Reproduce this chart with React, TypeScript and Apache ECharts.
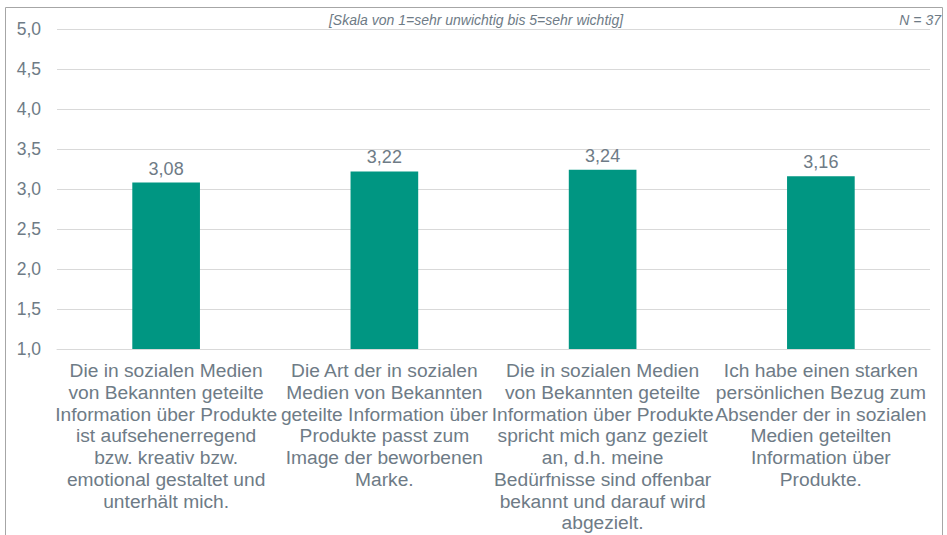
import React, { useEffect, useRef } from "react";
import * as echarts from "echarts";

const categories: string[] = [
  "Die in sozialen Medien\nvon Bekannten geteilte\nInformation über Produkte\nist aufsehenerregend\nbzw. kreativ bzw.\nemotional gestaltet und\nunterhält mich.",
  "Die Art der in sozialen\nMedien von Bekannten\ngeteilte Information über\nProdukte passt zum\nImage der beworbenen\nMarke.",
  "Die in sozialen Medien\nvon Bekannten geteilte\nInformation über Produkte\nspricht mich ganz gezielt\nan, d.h. meine\nBedürfnisse sind offenbar\nbekannt und darauf wird\nabgezielt.",
  "Ich habe einen starken\npersönlichen Bezug zum\nAbsender der in sozialen\nMedien geteilten\nInformation über\nProdukte.",
];
const values: number[] = [3.08, 3.22, 3.24, 3.16];
const subtitle = "[Skala von 1=sehr unwichtig bis 5=sehr wichtig]";
const nLabel = "N = 37";

const TEXT = "#6E7B86";
const FONT = "'Liberation Sans', Arial, sans-serif";

export default function App() {
  const ref = useRef<HTMLDivElement>(null);
  useEffect(() => {
    if (!ref.current) return;
    const chart = echarts.init(ref.current, undefined, { renderer: "svg" });
    chart.setOption({
      animation: false,
      textStyle: { fontFamily: FONT },
      grid: { left: 57, right: 17, top: 29, bottom: 186 },
      graphic: [
        {
          type: "rect",
          shape: { x: 5.5, y: 7.5, width: 937, height: 600 },
          style: { fill: "none", stroke: "#A6A6A6", lineWidth: 1 },
          silent: true,
        },
        {
          type: "text",
          x: 476,
          y: 20,
          style: {
            text: subtitle,
            fill: TEXT,
            font: `italic 14px ${FONT}`,
            textAlign: "center",
            textVerticalAlign: "middle",
          },
        },
        {
          type: "text",
          x: 941,
          y: 20,
          style: {
            text: nLabel,
            fill: TEXT,
            font: `italic 14px ${FONT}`,
            textAlign: "right",
            textVerticalAlign: "middle",
          },
        },
      ],
      xAxis: {
        type: "category",
        data: categories,
        axisLine: { show: true, lineStyle: { color: "#D9D9D9" } },
        axisTick: { show: false },
        axisLabel: {
          interval: 0,
          color: TEXT,
          fontSize: 19.2,
          lineHeight: 21.7,
          margin: 11,
          fontFamily: FONT,
        },
      },
      yAxis: {
        type: "value",
        min: 1,
        max: 5,
        interval: 0.5,
        axisLine: { show: false },
        axisTick: { show: false },
        splitLine: { lineStyle: { color: "#D9D9D9" } },
        axisLabel: {
          color: TEXT,
          fontSize: 17.5,
          margin: 16,
          fontFamily: FONT,
          formatter: (v: number) => v.toFixed(1).replace(".", ","),
        },
      },
      series: [
        {
          type: "bar",
          data: values,
          barWidth: "31%",
          itemStyle: { color: "#009682" },
          label: {
            show: true,
            position: "top",
            distance: 5,
            color: TEXT,
            fontSize: 18,
            fontFamily: FONT,
            formatter: (p: any) => p.value.toFixed(2).replace(".", ","),
          },
        },
      ],
    });
    return () => chart.dispose();
  }, []);
  return (
    <div
      ref={ref}
      style={{ position: "fixed", left: 0, top: 0, width: 947, height: 535, background: "#fff" }}
    />
  );
}
